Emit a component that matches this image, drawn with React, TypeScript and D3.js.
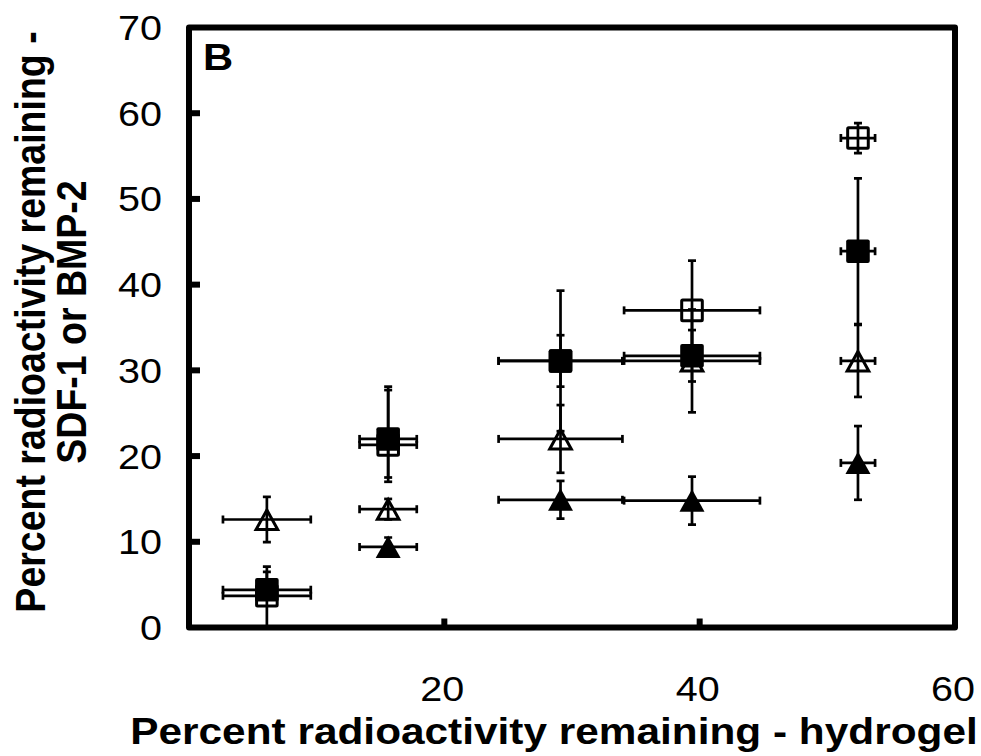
import React from "react";
import * as d3 from "d3";

// ---- data ----
const hydrogelX = [6.1, 15.6, 29.1, 39.4, 52.4];
const hydrogelXErr = [3.44, 2.24, 4.85, 5.32, 1.34];

const openSquareY = [3.7, 21.3, 31.1, 37.0, 57.1];
const openSquareErrUp = [2.8, 6.4, 8.2, 5.8, 1.75];
const openSquareErrDown = [3.7, 4.3, 8.2, 5.8, 1.75];

const filledSquareY = [4.4, 22.0, 31.1, 31.7, 43.9];
const filledSquareErrUp = [2.7, 6.1, 3.0, 3.0, 8.5];
const filledSquareErrDown = [1.0, 4.5, 3.0, 3.0, 8.5];

const openTriangleY = [12.6, 13.8, 22.0, 31.1, 31.1];
const openTriangleErrUp = [2.64, 1.2, 3.95, 6.0, 4.2];
const openTriangleErrDown = [2.64, 1.2, 3.95, 6.0, 4.2];

const filledTriangleY: (number | null)[] = [null, 9.4, 14.9, 14.8, 19.2];
const filledTriangleErrUp = [0, 1.1, 2.2, 2.8, 4.3];
const filledTriangleErrDown = [0, 1.1, 2.2, 2.8, 4.3];

const xTicks = [20, 40, 60];
const yTicks = [0, 10, 20, 30, 40, 50, 60, 70];

const xTitle = "Percent radioactivity remaining - hydrogel";
const yTitle1 = "Percent radioactivity remaining -";
const yTitle2 = "SDF-1 or BMP-2";
const panelLabel = "B";

type Series = {
  name: string;
  y: (number | null)[];
  up: number[];
  down: number[];
  marker: "openSquare" | "filledSquare" | "openTriangle" | "filledTriangle";
};

const series: Series[] = [
  { name: "openTriangle", y: openTriangleY, up: openTriangleErrUp, down: openTriangleErrDown, marker: "openTriangle" },
  { name: "filledTriangle", y: filledTriangleY, up: filledTriangleErrUp, down: filledTriangleErrDown, marker: "filledTriangle" },
  { name: "openSquare", y: openSquareY, up: openSquareErrUp, down: openSquareErrDown, marker: "openSquare" },
  { name: "filledSquare", y: filledSquareY, up: filledSquareErrUp, down: filledSquareErrDown, marker: "filledSquare" },
];

const W = 981;
const H = 756;
const left = 189;
const right = 955;
const top = 27.5;
const bottom = 627.5;
const FONT = "'Liberation Sans', Arial, Helvetica, sans-serif";
const STRETCH = 1.13;

export default function App() {
  const x = d3.scaleLinear().domain([0, 60]).range([left, right]);
  const y = d3.scaleLinear().domain([0, 70]).range([bottom, top]);

  const ebW = 2.7;
  const cap = 4;

  const errorBars: React.ReactNode[] = [];
  const markers: React.ReactNode[] = [];

  series.forEach((s) => {
    s.y.forEach((v, i) => {
      if (v == null) return;
      const cx = x(hydrogelX[i]);
      const cy = y(v);
      const x0 = x(hydrogelX[i] - hydrogelXErr[i]);
      const x1 = x(hydrogelX[i] + hydrogelXErr[i]);
      const y0 = y(v + s.up[i]);
      const y1 = y(v - s.down[i]);
      const k = `${s.name}-${i}`;
      errorBars.push(
        <g key={k} stroke="#000" strokeWidth={ebW} fill="none">
          <line x1={x0} x2={x1} y1={cy} y2={cy} />
          <line x1={x0} x2={x0} y1={cy - cap} y2={cy + cap} />
          <line x1={x1} x2={x1} y1={cy - cap} y2={cy + cap} />
          <line x1={cx} x2={cx} y1={y0} y2={y1} />
          <line x1={cx - cap} x2={cx + cap} y1={y0} y2={y0} />
          <line x1={cx - cap} x2={cx + cap} y1={y1} y2={y1} />
        </g>
      );
      let m: React.ReactNode = null;
      if (s.marker === "filledSquare") {
        m = <rect x={cx - 11.8} y={cy - 11.8} width={23.6} height={23.6} rx={2} fill="#000" />;
      } else if (s.marker === "openSquare") {
        m = <rect x={cx - 10.3} y={cy - 10.3} width={20.6} height={20.6} rx={1} fill="none" stroke="#000" strokeWidth={3} />;
      } else if (s.marker === "openTriangle") {
        const p = d3.path();
        p.moveTo(cx, cy - 9.5);
        p.lineTo(cx + 10.8, cy + 10);
        p.lineTo(cx - 10.8, cy + 10);
        p.closePath();
        m = <path d={p.toString()} fill="none" stroke="#000" strokeWidth={3} strokeLinejoin="miter" />;
      } else {
        const p = d3.path();
        p.moveTo(cx, cy - 11.5);
        p.lineTo(cx + 12.5, cy + 11);
        p.lineTo(cx - 12.5, cy + 11);
        p.closePath();
        m = <path d={p.toString()} fill="#000" />;
      }
      markers.push(<g key={k + "m"}>{m}</g>);
    });
  });

  return (
    <svg
      width={W}
      height={H}
      viewBox={`0 0 ${W} ${H}`}
      style={{ position: "absolute", left: 0, top: 0, display: "block", background: "#fff" }}
    >
      <rect x={0} y={0} width={W} height={H} fill="#fff" />
      <defs>
        <clipPath id="plotClip">
          <rect x={left} y={top} width={right - left} height={bottom - top} />
        </clipPath>
      </defs>

      {/* y tick labels */}
      {yTicks.map((t) => (
        <text
          key={"yl" + t}
          transform={`translate(162,${y(t) + 12.5}) scale(${STRETCH},1)`}
          textAnchor="end"
          fontFamily={FONT}
          fontSize={35}
          fill="#000"
        >
          {t}
        </text>
      ))}
      {/* x tick labels */}
      {xTicks.map((t) => (
        <text
          key={"xl" + t}
          transform={`translate(${x(t) - 2},701) scale(${STRETCH},1)`}
          textAnchor="middle"
          fontFamily={FONT}
          fontSize={35}
          fill="#000"
        >
          {t}
        </text>
      ))}

      {/* axis titles */}
      <text
        transform={`translate(554,744) scale(${STRETCH},1)`}
        textAnchor="middle"
        fontFamily={FONT}
        fontWeight="bold"
        fontSize={37.5}
        fill="#000"
      >
        {xTitle}
      </text>
      <text
        transform={`translate(45,322) scale(${STRETCH},1) rotate(-90)`}
        textAnchor="middle"
        fontFamily={FONT}
        fontWeight="bold"
        fontSize={37.5}
        fill="#000"
      >
        {yTitle1}
      </text>
      <text
        transform={`translate(86,322) scale(${STRETCH},1) rotate(-90)`}
        textAnchor="middle"
        fontFamily={FONT}
        fontWeight="bold"
        fontSize={37.5}
        fill="#000"
      >
        {yTitle2}
      </text>

      {/* data */}
      <g clipPath="url(#plotClip)">
        {errorBars}
        {markers}
      </g>

      {/* ticks */}
      {yTicks
        .filter((t) => t > 0 && t < 70)
        .map((t) => (
          <line key={"yt" + t} x1={left} x2={left + 11} y1={y(t)} y2={y(t)} stroke="#000" strokeWidth={6} />
        ))}
      {xTicks
        .filter((t) => t < 60)
        .map((t) => (
          <line key={"xt" + t} x1={x(t)} x2={x(t)} y1={bottom} y2={bottom - 9} stroke="#000" strokeWidth={6} />
        ))}

      {/* frame */}
      <rect
        x={left}
        y={top}
        width={right - left}
        height={bottom - top}
        fill="none"
        stroke="#000"
        strokeWidth={6}
        strokeLinejoin="round"
      />

      {/* panel label */}
      <text
        transform={`translate(203,70) scale(${STRETCH},1)`}
        fontFamily={FONT}
        fontWeight="bold"
        fontSize={37}
        fill="#000"
      >
        {panelLabel}
      </text>
    </svg>
  );
}
